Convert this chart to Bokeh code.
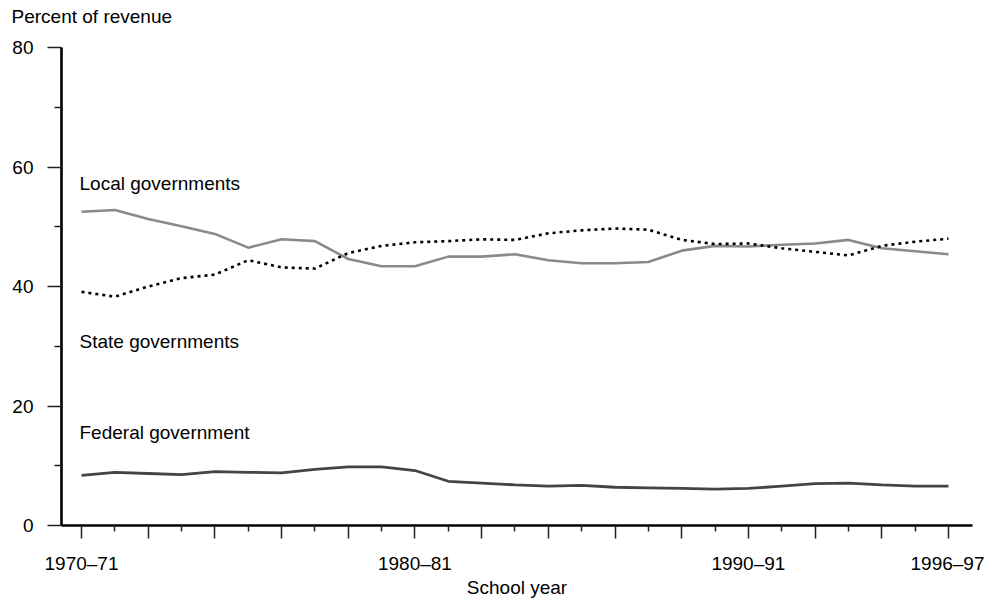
from bokeh.plotting import figure
from bokeh.models import Range1d, FixedTicker, Label, ColumnDataSource, Title
from bokeh.embed import file_html
from bokeh.resources import INLINE

years = ["1970–71", "1971–72", "1972–73", "1973–74", "1974–75", "1975–76", "1976–77",
         "1977–78", "1978–79", "1979–80", "1980–81", "1981–82", "1982–83", "1983–84",
         "1984–85", "1985–86", "1986–87", "1987–88", "1988–89", "1989–90", "1990–91",
         "1991–92", "1992–93", "1993–94", "1994–95", "1995–96", "1996–97"]
local_gov = [52.5, 52.8, 51.3, 50.1, 48.8, 46.5, 47.9, 47.6, 44.6, 43.4, 43.4, 45.0, 45.0,
             45.4, 44.4, 43.9, 43.9, 44.1, 46.0, 46.8, 46.7, 47.0, 47.2, 47.8, 46.4, 45.9, 45.4]
state_gov = [39.1, 38.3, 40.0, 41.4, 42.0, 44.4, 43.2, 43.0, 45.6, 46.8, 47.4, 47.6, 47.9,
             47.8, 48.9, 49.4, 49.7, 49.5, 47.8, 47.1, 47.2, 46.4, 45.8, 45.2, 46.8, 47.5, 48.0]
federal_gov = [8.4, 8.9, 8.7, 8.5, 9.0, 8.9, 8.8, 9.4, 9.8, 9.8, 9.2, 7.4, 7.1, 6.8, 6.6,
               6.7, 6.4, 6.3, 6.2, 6.1, 6.2, 6.6, 7.0, 7.1, 6.8, 6.6, 6.6]
labeled_years = ["1970–71", "1980–81", "1990–91", "1996–97"]
y_ticks = [0, 20, 40, 60, 80]
y_minor = [10, 30, 50, 70]

idx = list(range(len(years)))
src = ColumnDataSource(dict(x=idx, local=local_gov, state=state_gov, federal=federal_gov))

FONT = "Liberation Sans"
FS = "19px"

p = figure(width=984, height=600, output_backend="svg", toolbar_location=None,
           x_range=Range1d(-0.6, 26.72), y_range=Range1d(0, 80),
           min_border_left=61, min_border_right=12, min_border_top=47, min_border_bottom=75)
p.outline_line_color = None
p.grid.visible = False
p.background_fill_color = "white"
p.border_fill_color = "white"

p.line("x", "local", source=src, line_color="#8a8a8a", line_width=2.6)
p.line("x", "state", source=src, line_color="black", line_width=2.6, line_dash="3 4")
p.line("x", "federal", source=src, line_color="#444444", line_width=2.8)

# x axis
xa = p.xaxis[0]
xa.ticker = FixedTicker(ticks=[i for i in idx if i % 2 == 0],
                        minor_ticks=[i for i in idx if i % 2 == 1])
xa.major_label_overrides = {i: (years[i] if years[i] in labeled_years else "")
                            for i in idx if i % 2 == 0}
xa.axis_line_width = 2.6
xa.axis_line_color = "black"
xa.major_tick_in = 0
xa.major_tick_out = 13
xa.minor_tick_in = 0
xa.minor_tick_out = 6
xa.major_tick_line_width = 1.5
xa.minor_tick_line_width = 1.5
xa.major_tick_line_color = "#222222"
xa.minor_tick_line_color = "#222222"
xa.major_label_text_font = FONT
xa.major_label_text_font_size = FS
xa.major_label_text_color = "black"
xa.major_label_standoff = 14
xa.axis_label = "School year"
xa.axis_label_text_font = FONT
xa.axis_label_text_font_size = FS
xa.axis_label_text_font_style = "normal"
xa.axis_label_text_color = "black"
xa.axis_label_standoff = 0

# y axis
ya = p.yaxis[0]
ya.ticker = FixedTicker(ticks=y_ticks, minor_ticks=y_minor)
ya.axis_line_width = 2.6
ya.axis_line_color = "black"
ya.major_tick_in = 0
ya.major_tick_out = 14
ya.minor_tick_in = 0
ya.minor_tick_out = 7
ya.major_tick_line_width = 1.5
ya.minor_tick_line_width = 1.5
ya.major_tick_line_color = "#222222"
ya.minor_tick_line_color = "#222222"
ya.major_label_text_font = FONT
ya.major_label_text_font_size = FS
ya.major_label_text_color = "black"
ya.major_label_standoff = 14

p.add_layout(Title(text="Percent of revenue\n ", align="left", offset=-50,
                   text_font=FONT, text_font_size=FS, text_font_style="normal",
                   text_color="black", standoff=0), "above")

def add_label(x, y, text):
    p.add_layout(Label(x=x, y=y, text=text, text_font=FONT, text_font_size=FS,
                       text_color="black", text_baseline="alphabetic", text_align="left"))

add_label(-0.06, 57.2, "Local governments")
add_label(-0.06, 30.8, "State governments")
add_label(-0.06, 15.5, "Federal government")

open("out.html", "w").write(file_html(p, INLINE))
